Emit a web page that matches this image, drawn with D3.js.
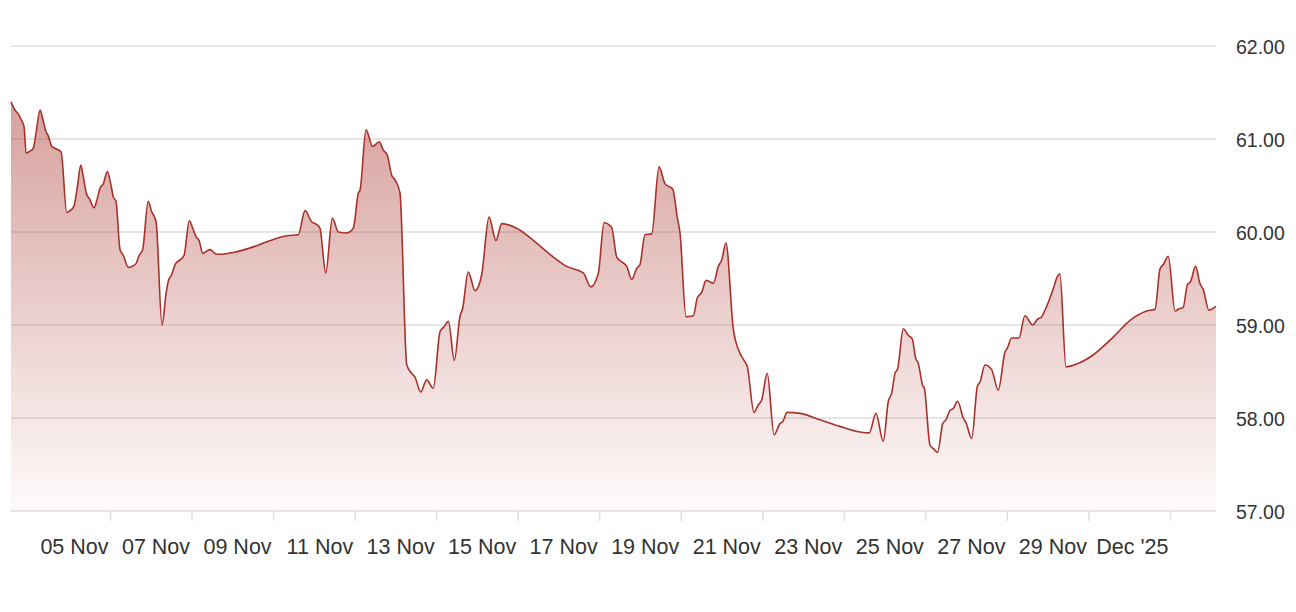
<!DOCTYPE html>
<html>
<head>
<meta charset="utf-8">
<script src="https://cdn.jsdelivr.net/npm/d3@7"></script>
<style>
  html, body { margin: 0; padding: 0; background: #fff; }
  svg { display: block; }
  text { font-family: "Liberation Sans", Arial, Helvetica, sans-serif; fill: #333; }
</style>
</head>
<body>
<svg id="chart" width="1296" height="612"></svg>
<script>
// Hours since 2025-11-05 00:00 UTC
const hours = [
  -58.3,-55.9,-54.0,-52.6,-50.6,-49.4,-47.1,-45.2,-43.6,-41.2,-39.3,-37.7,-36.3,-34.3,-32.4,-28.8,
  -25.5,-23.5,-21.2,-19.2,-17.2,-15.7,-13.7,-12.2,-9.4,-7.8,-5.9,-3.9,-1.6,0.4,1.9,3.5,
  5.9,7.8,10.8,12.8,15.3,17.2,19.2,22.5,24.5,27.1,30.6,33.0,34.3,36.3,38.3,41.2,43.6,
  46.7,48.7,50.6,52.4,54.6,56.5,58.9,62.8,72.6,84.4,96.1,104.0,110.8,
  114.8,118.7,121.7,123.6,127.0,130.9,134.4,139.3,143.2,146.2,147.2,150.7,154.6,158.5,160.9,163.2,165.8,167.8,170.7,
  174.7,177.6,179.5,182.9,186.4,190.3,194.3,196.6,199.2,202.7,206.0,207.6,210.9,214.9,218.8,223.1,227.2,230.6,
  239.4,249.2,261.0,268.8,278.6,283.0,287.5,290.8,295.3,298.3,301.2,304.2,307.1,310.1,312.0,314.9,318.9,
  323.2,326.7,331.3,334.0,335.5,339.1,343.4,345.7,348.3,350.9,355.2,358.1,360.1,362.6,366.9,370.5,373.2,375.2,
  379.1,381.6,383.6,386.9,390.9,394.4,396.0,398.7,406.2,418.0,429.7,441.5,447.0,450.9,455.2,458.2,460.2,462.1,463.7,
  467.0,469.9,472.3,474.3,475.8,478.4,479.4,482.7,484.7,487.2,490.2,492.1,494.5,496.4,499.0,502.3,503.9,507.3,
  510.6,512.2,515.1,519.0,522.9,526.9,528.2,530.8,535.1,538.6,543.2,545.9,548.5,551.4,555.3,557.7,559.2,
  562.8,569.1,578.9,590.6,600.5,610.3,615.2,618.1,620.1,623.0,627.0,628.9,631.8,634.2,636.2,639.1,641.6,643.6,
  646.9,648.5,651.1
];
const prices = [
  61.40,61.31,61.27,61.22,61.13,60.85,60.87,60.90,61.06,61.31,61.19,61.08,61.03,60.92,60.90,60.86,
  60.21,60.23,60.28,60.49,60.72,60.59,60.40,60.36,60.26,60.34,60.47,60.52,60.65,60.52,60.38,60.33,
  59.81,59.75,59.62,59.63,59.66,59.75,59.81,60.33,60.22,60.11,59.00,59.34,59.47,59.54,59.65,59.70,59.75,
  60.12,60.04,59.95,59.91,59.77,59.79,59.81,59.76,59.78,59.84,59.92,59.96,59.97,
  60.23,60.11,60.08,60.04,59.56,60.15,60.00,59.99,60.04,60.42,60.45,61.10,60.92,60.97,60.88,60.83,60.61,60.56,60.42,
  58.57,58.48,58.44,58.28,58.41,58.32,58.93,58.98,59.04,58.62,59.09,59.18,59.57,59.37,59.54,60.16,59.91,60.09,
  60.04,59.91,59.73,59.63,59.56,59.41,59.56,60.10,60.05,59.73,59.68,59.63,59.49,59.61,59.65,59.97,59.98,
  60.70,60.52,60.46,60.15,60.00,59.09,59.10,59.29,59.35,59.48,59.45,59.63,59.70,59.88,58.96,58.71,58.62,58.55,
  58.06,58.14,58.19,58.48,57.82,57.94,57.96,58.06,58.05,57.98,57.91,57.85,57.84,58.05,57.75,58.18,58.27,58.48,58.53,
  58.96,58.89,58.85,58.64,58.59,58.35,58.32,57.71,57.67,57.63,57.94,57.98,58.08,58.10,58.18,58.00,57.95,57.78,
  58.34,58.39,58.57,58.52,58.30,58.71,58.75,58.86,58.86,59.10,59.00,59.06,59.09,59.20,59.39,59.52,59.55,
  58.55,58.58,58.68,58.87,59.05,59.15,59.17,59.60,59.65,59.74,59.15,59.17,59.19,59.43,59.47,59.63,59.45,59.38,
  59.16,59.17,59.20
];
const xTickDates = ["2025-11-05","2025-11-07","2025-11-09","2025-11-11","2025-11-13","2025-11-15","2025-11-17",
  "2025-11-19","2025-11-21","2025-11-23","2025-11-25","2025-11-27","2025-11-29","2025-12-01"];
const xTickLabels = ["05 Nov","07 Nov","09 Nov","11 Nov","13 Nov","15 Nov","17 Nov",
  "19 Nov","21 Nov","23 Nov","25 Nov","27 Nov","29 Nov","Dec '25"];
const yTicks = [57, 58, 59, 60, 61, 62];

(function () {
  const base = Date.UTC(2025, 10, 5);
  const data = hours.map((h, i) => ({ t: new Date(base + h * 3600e3), v: prices[i] }));

  const svg = d3.select("#chart");
  const plotLeft = 11, plotRight = 1216, plotTop = 46, plotBottom = 511;

  const x = d3.scaleUtc().domain(d3.extent(data, d => d.t)).range([plotLeft, plotRight]);
  const y = d3.scaleLinear().domain([57, 62]).range([plotBottom, plotTop]);

  const lineColor = "#a8322a";

  const defs = svg.append("defs");
  const grad = defs.append("linearGradient").attr("id", "areaGrad")
    .attr("gradientUnits", "userSpaceOnUse")
    .attr("x1", 0).attr("y1", y(61.4)).attr("x2", 0).attr("y2", plotBottom);
  grad.append("stop").attr("offset", 0).attr("stop-color", lineColor).attr("stop-opacity", 0.46);
  grad.append("stop").attr("offset", 1).attr("stop-color", lineColor).attr("stop-opacity", 0.02);

  svg.append("g")
    .selectAll("line")
    .data(yTicks)
    .join("line")
    .attr("x1", plotLeft).attr("x2", plotRight)
    .attr("y1", d => y(d)).attr("y2", d => y(d))
    .attr("stroke", "#dedede")
    .attr("stroke-width", 1.4);

  const area = d3.area().x(d => x(d.t)).y0(y(57)).y1(d => y(d.v)).curve(d3.curveMonotoneX);
  const line = d3.line().x(d => x(d.t)).y(d => y(d.v)).curve(d3.curveMonotoneX);

  svg.append("path").datum(data).attr("d", area).attr("fill", "url(#areaGrad)");
  svg.append("path").datum(data).attr("d", line)
    .attr("fill", "none").attr("stroke", lineColor).attr("stroke-width", 1.6)
    .attr("stroke-linejoin", "round");

  const tickDates = xTickDates.map(s => new Date(s + "T00:00:00Z"));
  const xAxis = d3.axisBottom(x)
    .tickValues(tickDates)
    .tickSize(10)
    .tickFormat((d, i) => xTickLabels[i]);
  const gx = svg.append("g").attr("transform", `translate(0,${plotBottom})`).call(xAxis);
  gx.select(".domain").remove();
  gx.selectAll(".tick line").attr("stroke", "#dedede").attr("stroke-width", 1.4);
  gx.selectAll(".tick text")
    .attr("text-anchor", "end")
    .attr("x", -2)
    .attr("y", 43)
    .attr("dy", 0)
    .attr("fill", "#333")
    .style("font-size", "21.5px")
    .style("font-family", "'Liberation Sans', Arial, sans-serif");

  const yAxis = d3.axisRight(y).tickValues(yTicks).tickSize(0).tickFormat(d3.format(".2f"));
  const gy = svg.append("g").attr("transform", `translate(${1236},0)`).call(yAxis);
  gy.select(".domain").remove();
  gy.selectAll(".tick text")
    .attr("x", 0)
    .attr("dy", "0.36em")
    .attr("text-anchor", "start")
    .attr("fill", "#333")
    .style("font-size", "19.5px")
    .style("font-family", "'Liberation Sans', Arial, sans-serif");
})();
</script>
</body>
</html>
